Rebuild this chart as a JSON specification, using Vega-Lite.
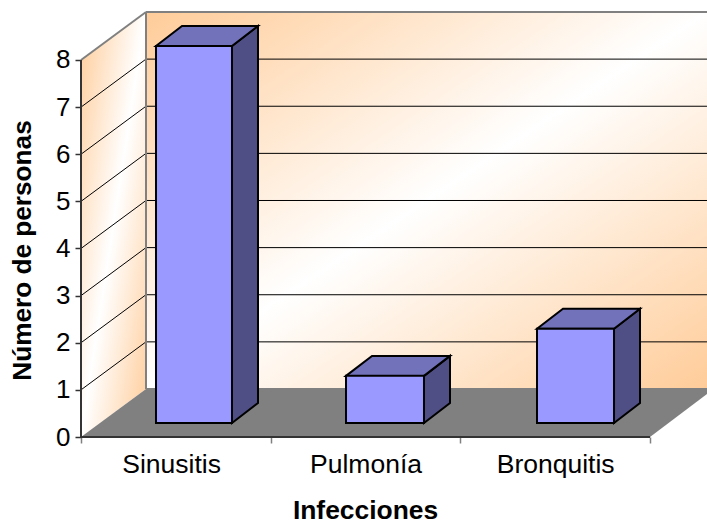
{
"$schema":"https://vega.github.io/schema/vega-lite/v6.json",
"width":626,"height":437,"autosize":"none",
"padding":{"left":81,"top":0,"right":0,"bottom":85},
"background":"white",
"config":{"view":{"stroke":null},"font":"Liberation Sans"},
"datasets":{
"barras":[
{"infeccion":"Sinusitis","valor":8,"x":0.3954,"x2":0.7961},
{"infeccion":"Pulmonía","valor":1,"x":1.3972,"x2":1.8084},
{"infeccion":"Bronquitis","valor":2,"x":2.4042,"x2":2.8102}],
"superior":[
{"infeccion":"Sinusitis","x":0.3954,"y":8.297,"y2":8.297},
{"infeccion":"Sinusitis","x":0.5325,"y":8.7214,"y2":8.297},
{"infeccion":"Sinusitis","x":0.7961,"y":8.7214,"y2":8.297},
{"infeccion":"Sinusitis","x":0.9332,"y":8.7214,"y2":8.7214},
{"infeccion":"Pulmonía","x":1.3972,"y":1.297,"y2":1.297},
{"infeccion":"Pulmonía","x":1.5343,"y":1.7214,"y2":1.297},
{"infeccion":"Pulmonía","x":1.8084,"y":1.7214,"y2":1.297},
{"infeccion":"Pulmonía","x":1.9455,"y":1.7214,"y2":1.7214},
{"infeccion":"Bronquitis","x":2.4042,"y":2.297,"y2":2.297},
{"infeccion":"Bronquitis","x":2.5413,"y":2.7214,"y2":2.297},
{"infeccion":"Bronquitis","x":2.8102,"y":2.7214,"y2":2.297},
{"infeccion":"Bronquitis","x":2.9473,"y":2.7214,"y2":2.7214}],
"lateral":[
{"infeccion":"Sinusitis","x":0.7961,"y":8.297,"y2":0.297},
{"infeccion":"Sinusitis","x":0.9332,"y":8.7214,"y2":0.7214},
{"infeccion":"Pulmonía","x":1.8084,"y":1.297,"y2":0.297},
{"infeccion":"Pulmonía","x":1.9455,"y":1.7214,"y2":0.7214},
{"infeccion":"Bronquitis","x":2.8102,"y":2.297,"y2":0.297},
{"infeccion":"Bronquitis","x":2.9473,"y":2.7214,"y2":0.7214}],
"fondo":[{"x":0.3427,"x2":3.3005,"y":9.0186,"y2":1.0186}],
"pared":[{"x":0,"y":8,"y2":0},{"x":0.3427,"y":9.0186,"y2":1.0186}],
"suelo":[{"x":0,"y":0,"y2":0},{"x":0.3427,"y":1.0186,"y2":0},{"x":3,"y":1.0186,"y2":0},{"x":3.3005,"y":1.0186,"y2":0.9125}],
"rejilla":[
{"x":0.3427,"x2":3.3005,"y":2.0186,"y2":2.0186},
{"x":0.3427,"x2":3.3005,"y":3.0186,"y2":3.0186},
{"x":0.3427,"x2":3.3005,"y":4.0186,"y2":4.0186},
{"x":0.3427,"x2":3.3005,"y":5.0186,"y2":5.0186},
{"x":0.3427,"x2":3.3005,"y":6.0186,"y2":6.0186},
{"x":0.3427,"x2":3.3005,"y":7.0186,"y2":7.0186},
{"x":0.3427,"x2":3.3005,"y":8.0186,"y2":8.0186},
{"x":0,"x2":0.3427,"y":1,"y2":2.0186},
{"x":0,"x2":0.3427,"y":2,"y2":3.0186},
{"x":0,"x2":0.3427,"y":3,"y2":4.0186},
{"x":0,"x2":0.3427,"y":4,"y2":5.0186},
{"x":0,"x2":0.3427,"y":5,"y2":6.0186},
{"x":0,"x2":0.3427,"y":6,"y2":7.0186},
{"x":0,"x2":0.3427,"y":7,"y2":8.0186}],
"bordes":[
{"x":0,"x2":0.3427,"y":8,"y2":9.0186},
{"x":0.3427,"x2":3.3005,"y":9.0186,"y2":9.0186},
{"x":0.3427,"x2":0.3427,"y":1.0186,"y2":9.0186},
{"x":0.3427,"x2":3.3005,"y":1.0186,"y2":1.0186}],
"ejes":[
{"x":0,"x2":0,"y":0,"y2":8},
{"x":0,"x2":3,"y":0,"y2":0}]
},
"encoding":{
"x":{"field":"x","type":"quantitative","scale":{"domain":[0,3.3005],"nice":false,"zero":false},
   "axis":{"title":"Infecciones","titleFont":"Liberation Sans","titleFontSize":26.4,"titleFontWeight":"bold","titleColor":"#000000","titleX":284,"titleY":60,
    "values":[0,0.475,1,1.5,2,2.5,3],"labelExpr":"datum.value==0.475?'Sinusitis':datum.value==1.5?'Pulmonía':datum.value==2.5?'Bronquitis':''",
    "labelFont":"Liberation Sans","labelFontSize":26.5,"labelColor":"#000000","labelPadding":8,"labelOverlap":false,"labelFlush":false,
    "domain":false,"grid":false,"tickSize":6,"tickColor":"#808080","tickWidth":1.5,
    "tickOpacity":{"condition":{"test":"datum.value%1!=0","value":0},"value":1}}},
"y":{"field":"y","type":"quantitative","scale":{"domain":[0,9.273],"nice":false,"zero":false},
   "axis":{"title":"Número de personas","titleFont":"Liberation Sans","titleFontSize":26.2,"titleFontWeight":"bold","titleColor":"#000000","titleX":-45,"titleY":250,
    "values":[0,1,2,3,4,5,6,7,8],"format":"d","labelFont":"Liberation Sans","labelFontSize":26,"labelColor":"#000000","labelPadding":5,"labelFlush":false,
    "domain":false,"grid":false,"tickSize":6,"tickColor":"#333333","tickWidth":1.5}}
},
"layer":[
{"data":{"name":"fondo"},"mark":{"type":"rect","color":{"gradient":"linear","x1":0,"y1":0,"x2":1,"y2":1,"stops":[{"offset":0,"color":"#FFCC99"},{"offset":0.5,"color":"#FFFFFF"},{"offset":1,"color":"#FFCC99"}]}},
 "encoding":{"x2":{"field":"x2"},"y2":{"field":"y2"}}},
{"data":{"name":"pared"},"mark":{"type":"area","color":{"gradient":"linear","x1":0,"y1":0,"x2":1,"y2":1,"stops":[{"offset":0,"color":"#FFCC99"},{"offset":0.5,"color":"#FFFFFF"},{"offset":1,"color":"#FFCC99"}]}},
 "encoding":{"y2":{"field":"y2"}}},
{"data":{"name":"suelo"},"mark":{"type":"area","color":"#808080"},"encoding":{"y2":{"field":"y2"}}},
{"data":{"name":"rejilla"},"mark":{"type":"rule","color":"#000000","strokeWidth":1},"encoding":{"x2":{"field":"x2"},"y2":{"field":"y2"}}},
{"data":{"name":"bordes"},"mark":{"type":"rule","color":"#808080","strokeWidth":2},"encoding":{"x2":{"field":"x2"},"y2":{"field":"y2"}}},
{"data":{"name":"ejes"},"mark":{"type":"rule","color":"#333333","strokeWidth":2},"encoding":{"x2":{"field":"x2"},"y2":{"field":"y2"}}},
{"data":{"name":"lateral"},"mark":{"type":"area","color":"#4F4F85","stroke":"#000000","strokeWidth":2},"encoding":{"y2":{"field":"y2"},"detail":{"field":"infeccion"}}},
{"data":{"name":"superior"},"mark":{"type":"area","color":"#7272BA","stroke":"#000000","strokeWidth":2},"encoding":{"y2":{"field":"y2"},"detail":{"field":"infeccion"}}},
{"data":{"name":"barras"},"mark":{"type":"rect","color":"#9999FF","stroke":"#000000","strokeWidth":2,"yOffset":-14,"y2Offset":-14},
 "encoding":{
  "x2":{"field":"x2"},
  "y":{"field":"valor","type":"quantitative","scale":{"domain":[0,9.273],"nice":false,"zero":false},
   "axis":{"title":"Número de personas","titleFont":"Liberation Sans","titleFontSize":26.2,"titleFontWeight":"bold","titleColor":"#000000","titleX":-45,"titleY":250,
    "values":[0,1,2,3,4,5,6,7,8],"format":"d","labelFont":"Liberation Sans","labelFontSize":26,"labelColor":"#000000","labelPadding":5,"labelFlush":false,
    "domain":false,"grid":false,"tickSize":6,"tickColor":"#333333","tickWidth":1.5}},
  "y2":{"datum":0}}}
]
}
